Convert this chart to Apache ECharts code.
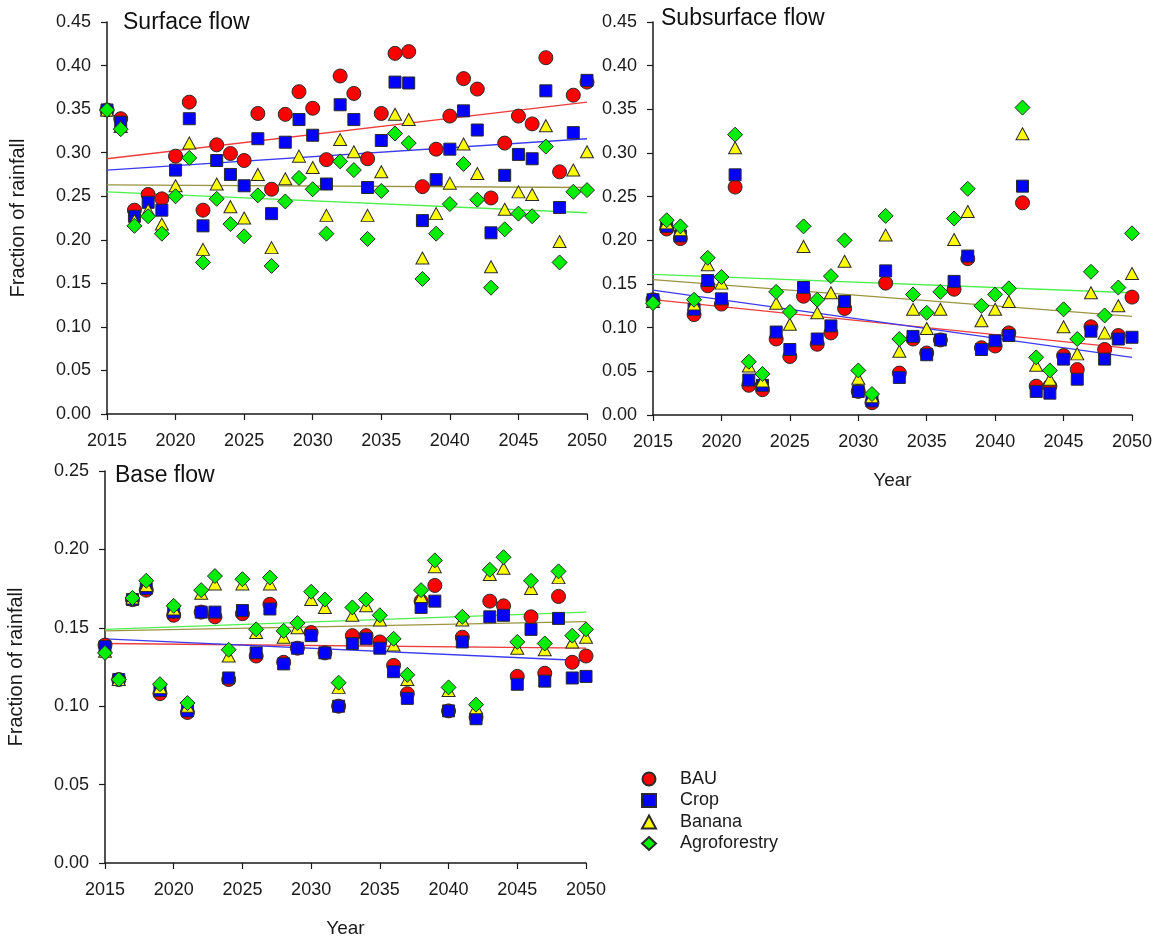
<!DOCTYPE html>
<html>
<head>
<meta charset="utf-8">
<script src="https://cdn.jsdelivr.net/npm/echarts@6/dist/echarts.min.js"></script>
<style>
  html, body { margin: 0; padding: 0; background: #fff; }
  #chart { width: 1163px; height: 941px; }
</style>
</head>
<body>
<div id="chart"></div>
<script>
// Simulation years
const years = [2015,2016,2017,2018,2019,2020,2021,2022,2023,2024,2025,2026,2027,2028,2029,2030,2031,2032,
               2033,2034,2035,2036,2037,2038,2039,2040,2041,2042,2043,2044,2045,2046,2047,2048,2049,2050];

// Surface flow (fraction of rainfall)
const surfBAU    = [0.349,0.339,0.234,0.252,0.247,0.296,0.358,0.234,0.309,0.299,0.291,0.345,0.258,0.344,0.370,0.351,0.292,0.388,0.368,0.293,0.345,0.414,0.416,0.261,0.304,0.342,0.385,0.373,0.248,0.311,0.342,0.333,0.409,0.278,0.366,0.381];
const surfCrop   = [0.349,0.335,0.227,0.243,0.234,0.280,0.339,0.216,0.291,0.275,0.262,0.316,0.230,0.312,0.338,0.320,0.264,0.355,0.338,0.260,0.314,0.381,0.380,0.222,0.269,0.304,0.348,0.326,0.208,0.274,0.298,0.293,0.371,0.237,0.323,0.383];
const surfBanana = [0.349,0.330,0.222,0.234,0.218,0.262,0.311,0.189,0.264,0.238,0.225,0.275,0.191,0.270,0.296,0.283,0.228,0.315,0.301,0.228,0.278,0.344,0.338,0.179,0.230,0.265,0.310,0.276,0.169,0.235,0.255,0.252,0.331,0.198,0.280,0.301];
const surfAgro   = [0.349,0.327,0.216,0.227,0.207,0.250,0.294,0.174,0.247,0.218,0.204,0.251,0.170,0.244,0.271,0.258,0.207,0.290,0.280,0.201,0.256,0.322,0.311,0.155,0.207,0.241,0.287,0.246,0.145,0.212,0.230,0.227,0.307,0.174,0.255,0.257];

// Subsurface flow
const subBAU    = [0.132,0.213,0.202,0.115,0.148,0.127,0.261,0.034,0.029,0.087,0.067,0.136,0.081,0.094,0.122,0.027,0.014,0.151,0.048,0.087,0.071,0.086,0.144,0.179,0.077,0.079,0.094,0.243,0.033,0.033,0.068,0.052,0.101,0.075,0.091,0.135];
const subCrop   = [0.132,0.216,0.205,0.121,0.154,0.133,0.275,0.040,0.034,0.095,0.075,0.146,0.087,0.102,0.130,0.027,0.016,0.165,0.043,0.090,0.069,0.086,0.153,0.182,0.075,0.085,0.091,0.262,0.027,0.025,0.064,0.041,0.096,0.064,0.087,0.089];
const subBanana = [0.130,0.220,0.212,0.127,0.172,0.151,0.306,0.056,0.039,0.128,0.104,0.193,0.117,0.140,0.176,0.042,0.021,0.206,0.073,0.121,0.099,0.121,0.201,0.233,0.108,0.121,0.130,0.322,0.057,0.041,0.101,0.070,0.140,0.094,0.125,0.162];
const subAgro   = [0.128,0.223,0.216,0.132,0.180,0.158,0.321,0.061,0.047,0.141,0.118,0.216,0.132,0.159,0.200,0.051,0.024,0.228,0.087,0.138,0.117,0.141,0.225,0.259,0.125,0.138,0.145,0.352,0.066,0.051,0.121,0.087,0.164,0.114,0.146,0.208];

// Base flow
const baseBAU    = [0.139,0.117,0.168,0.174,0.108,0.158,0.096,0.160,0.157,0.117,0.159,0.132,0.165,0.128,0.137,0.147,0.134,0.100,0.145,0.145,0.141,0.126,0.108,0.167,0.177,0.097,0.144,0.093,0.167,0.164,0.119,0.157,0.121,0.170,0.128,0.132];
const baseCrop   = [0.138,0.117,0.168,0.175,0.110,0.160,0.097,0.160,0.160,0.118,0.161,0.134,0.162,0.127,0.137,0.145,0.134,0.100,0.140,0.143,0.137,0.122,0.105,0.163,0.167,0.097,0.141,0.092,0.157,0.158,0.114,0.149,0.116,0.156,0.118,0.119];
const baseBanana = [0.135,0.117,0.169,0.177,0.112,0.162,0.100,0.172,0.178,0.132,0.178,0.147,0.178,0.144,0.150,0.168,0.163,0.112,0.158,0.164,0.155,0.139,0.117,0.170,0.189,0.110,0.155,0.099,0.184,0.188,0.137,0.175,0.136,0.182,0.141,0.144];
const baseAgro   = [0.134,0.117,0.169,0.180,0.114,0.164,0.102,0.174,0.183,0.136,0.181,0.149,0.182,0.148,0.153,0.173,0.168,0.115,0.163,0.168,0.158,0.143,0.120,0.174,0.193,0.112,0.157,0.101,0.187,0.195,0.141,0.180,0.140,0.186,0.145,0.149];

// Linear trend lines: value at first and last year
const trendYears = [2015, 2050];
const surfTrend = { BAU: [0.293, 0.358], Crop: [0.280, 0.316], Banana: [0.263, 0.260], Agroforestry: [0.255, 0.231] };
const subTrend  = { BAU: [0.132, 0.076], Crop: [0.143, 0.066], Banana: [0.155, 0.113], Agroforestry: [0.161, 0.140] };
const baseTrend = { BAU: [0.140, 0.137], Crop: [0.143, 0.129], Banana: [0.148, 0.154], Agroforestry: [0.149, 0.160] };

const scenarios = ['BAU', 'Crop', 'Banana', 'Agroforestry'];
const panelTitles = ['Surface flow', 'Subsurface flow', 'Base flow'];
const xTicks = { min: 2015, max: 2050, step: 5 };
const yTicks = [{ max: 0.45, step: 0.05 }, { max: 0.45, step: 0.05 }, { max: 0.25, step: 0.05 }];

const FONT = 'Liberation Sans, Arial, sans-serif';
const INK = '#1a1a1a';

const markerStyle = {
  BAU:          { symbol: 'circle',   size: 14,       color: '#ff0000', line: '#ee3b3b' },
  Crop:         { symbol: 'rect',     size: 12,       color: '#0000ff', line: '#3a3af0' },
  Banana:       { symbol: 'triangle', size: [13, 12], color: '#ffff00', line: '#9a9440' },
  Agroforestry: { symbol: 'diamond',  size: 15,       color: '#00ee00', line: '#4cf04c' }
};

const panels = [
  { data: { BAU: surfBAU, Crop: surfCrop, Banana: surfBanana, Agroforestry: surfAgro }, trend: surfTrend },
  { data: { BAU: subBAU, Crop: subCrop, Banana: subBanana, Agroforestry: subAgro }, trend: subTrend },
  { data: { BAU: baseBAU, Crop: baseCrop, Banana: baseBanana, Agroforestry: baseAgro }, trend: baseTrend }
];

const grids = [
  { left: 107, top: 22, width: 480, height: 392 },
  { left: 653, top: 22, width: 479, height: 393 },
  { left: 105, top: 471, width: 481, height: 392 }
];

const axisLine = { show: true, onZero: false, lineStyle: { color: INK, width: 1.5 } };
const axisTick = { show: true, inside: false, length: 6, lineStyle: { color: INK, width: 1.2 } };

const xAxes = grids.map((g, i) => ({
  type: 'value', gridIndex: i, min: xTicks.min, max: xTicks.max, interval: xTicks.step,
  axisLine, axisTick, splitLine: { show: false },
  axisLabel: { margin: 18, fontSize: 18, fontFamily: FONT, color: INK, formatter: v => String(v) },
  name: i === 0 ? '' : 'Year', nameLocation: 'middle', nameGap: 56,
  nameTextStyle: { fontSize: 19, fontFamily: FONT, color: INK }
}));

const yAxes = grids.map((g, i) => ({
  type: 'value', gridIndex: i, min: 0, max: yTicks[i].max, interval: yTicks[i].step,
  axisLine, axisTick, splitLine: { show: false },
  axisLabel: { margin: 16, fontSize: 18, fontFamily: FONT, color: INK, formatter: v => v.toFixed(2) },
  name: i === 1 ? '' : 'Fraction of rainfall', nameLocation: 'middle', nameRotate: 90, nameGap: 79,
  nameTextStyle: { fontSize: 20, fontFamily: FONT, color: INK }
}));

const series = [];
panels.forEach((p, i) => {
  scenarios.forEach(name => {
    const t = p.trend[name];
    series.push({
      type: 'line', name: name + ' trend', xAxisIndex: i, yAxisIndex: i, z: 1,
      data: trendYears.map((y, k) => [y, t[k]]),
      showSymbol: false, symbol: 'none', silent: true,
      lineStyle: { color: markerStyle[name].line, width: 1.3 }
    });
  });
  scenarios.forEach((name, k) => {
    const m = markerStyle[name];
    series.push({
      type: 'scatter', name, xAxisIndex: i, yAxisIndex: i, z: 2 + k,
      symbol: m.symbol, symbolSize: m.size,
      itemStyle: { color: m.color, borderColor: '#2a2a2a', borderWidth: 1, opacity: 1 },
      data: years.map((y, j) => [y, p.data[name][j]])
    });
  });
});

const titlePos = [{ left: 123, top: 11 }, { left: 661, top: 7 }, { left: 115, top: 464 }];

const option = {
  backgroundColor: '#ffffff',
  animation: false,
  title: panelTitles.map((t, i) => ({
    text: t, left: titlePos[i].left, top: titlePos[i].top, padding: 0,
    textStyle: { fontSize: 23, fontWeight: 'normal', fontFamily: FONT, color: '#111' }
  })),
  legend: {
    data: scenarios, orient: 'vertical', left: 636, top: 765,
    itemWidth: 14, itemHeight: 13, itemGap: 3.5,
    textStyle: { fontSize: 18, fontFamily: FONT, color: INK, lineHeight: 18, padding: [0, 0, 0, 19] },
    selectedMode: false
  },
  grid: grids,
  xAxis: xAxes,
  yAxis: yAxes,
  series
};

const chart = echarts.init(document.getElementById('chart'), null, { renderer: 'canvas' });
chart.setOption(option);
</script>
</body>
</html>
